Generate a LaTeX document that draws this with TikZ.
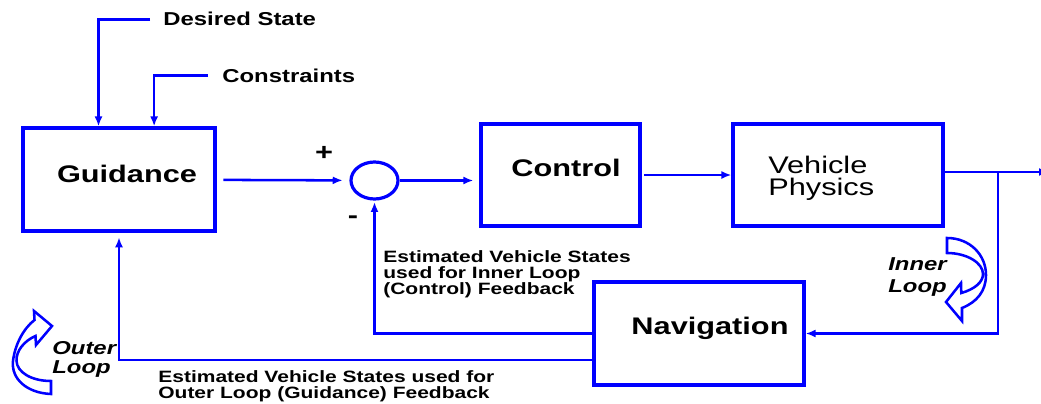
\documentclass[tikz,border=0pt]{standalone}
\usepackage{fontspec}
\setmainfont{Liberation Sans}
\usepackage{tikz}
\usetikzlibrary{calc}
\usetikzlibrary{shapes.geometric, arrows.meta}

\tikzset{
  blockbox/.style={draw=blue, line width=2.4pt, inner sep=0pt},
  flow/.style={draw=blue, line width=1.9pt, -{Latex[length=7.5pt,width=6pt]}},
  looparrow/.style={draw=blue, line width=1.9pt, fill=white, line join=miter},
  wide/.style={inner sep=0pt, xscale=1.28, align=left},
  titlefont/.style={font=\bfseries\fontsize{18}{20}\selectfont},
  plainfont/.style={font=\fontsize{18}{16.5}\selectfont},
  smallbold/.style={font=\bfseries\fontsize{14}{16}\selectfont},
  notefont/.style={font=\bfseries\fontsize{12.3}{12}\selectfont},
  loopfont/.style={font=\bfseries\itshape\fontsize{14}{#1}\selectfont},
}

\begin{document}
\begin{tikzpicture}[x=0.75pt,y=0.75pt,yscale=-1,xscale=1]
            \path[fill=white] (0,0) rectangle (1041,403);
            \useasboundingbox (0,0) rectangle (1041,403);

            %Shape: Rectangle [guidance]
            \node [blockbox, minimum width=144pt, minimum height=77.25pt] (guid) at (119,179.5) {};
            %Shape: Rectangle [control]
            \node [blockbox, minimum width=119.25pt, minimum height=76.5pt] (ctrl) at (560.5,175) {};
            %Shape: Rectangle [vehicle physics]
            \node [blockbox, minimum width=157.5pt, minimum height=76.5pt] (veh) at (838,175) {};
            %Shape: Rectangle [navigation]
            \node [blockbox, minimum width=157.5pt, minimum height=77.25pt] (nav) at (699,333.5) {};
            %Shape: Ellipse [summing junction]
            \node [blockbox, ellipse, minimum width=35.25pt, minimum height=27.75pt] (sum) at (374.5,180.5) {};

            % Text Node
            \draw (127,182) node [anchor=base][wide, titlefont] (guidtxt) {Guidance};
            % Text Node
            \draw (566,176) node [anchor=base][wide, titlefont] (ctrltxt) {Control};
            % Text Node
            \draw (710,334) node [anchor=base][wide, titlefont] (navtxt) {Navigation};
            % Text Node
            \draw (768,156) node [anchor=north west][wide, plainfont] (vehtxt) {Vehicle\\Physics};
            % Text Node
            \draw (163,26) node [anchor=base west][wide, smallbold] (desired) {Desired State};
            % Text Node
            \draw (222,82) node [anchor=base west][wide, smallbold] (constr) {Constraints};
            % Text Node
            \draw (324,153) node [wide, titlefont] (plus) {+};
            % Text Node
            \draw (353,220) node [wide, titlefont] (minus) {-};
            % Text Node
            \draw (383,250) node [anchor=north west][wide, notefont] (innerfb) {Estimated Vehicle States\\used for Inner Loop\\(Control) Feedback};
            % Text Node
            \draw (158,370) node [anchor=north west][wide, notefont] (outerfb) {Estimated Vehicle States used for\\Outer Loop (Guidance) Feedback};
            % Text Node
            \draw (888,257) node [anchor=north west][wide, loopfont=17] (innerlbl) {Inner\\Loop};
            % Text Node
            \draw (52,341) node [anchor=north west][wide, loopfont=14.25] (outerlbl) {Outer\\Loop};

            % entry points on the guidance box
            \coordinate (gin1) at ($(guid.north west)!0.395!(guid.north east)$);
            \coordinate (gin2) at ($(guid.north west)!0.68!(guid.north east)$);
            \coordinate (tap) at (998,172);
            \coordinate (out) at (1049,172);

            %Straight Lines [inputs]
            \draw [flow, shorten <=9.75pt] (desired.west) -| (gin1);
            \draw [flow, shorten <=10.5pt] (constr.west) -| (gin2);
            %Straight Lines [forward path]
            \draw [flow, shorten <=5pt, shorten >=5pt] (guid) -- (sum);
            \draw [flow, shorten >=4.5pt] (sum.east) -- (sum.east -| ctrl.west);
            \draw [flow, shorten <=2pt] (ctrl.east) -- (veh.west);
            \draw [flow] (veh.east |- out) -- (out);
            %Straight Lines [feedback]
            \draw [flow] (tap) |- (nav.east);
            \draw [flow, shorten >=1pt] (nav.west) -| (sum.south);
            \draw [flow, shorten >=3.5pt] ($(nav.west)!0.5!(nav.south west)$) -| (guid.south);

            %Curve Lines [inner loop arrow]
            \draw [looparrow] (947,238) .. controls (970,238) and (986,255) .. (986,275) .. controls (986,291) and (977,302) .. (962,308) -- (962,321) -- (946,302) -- (961,283) -- (961.3,293) .. controls (975,289) and (983,282) .. (983,274) .. controls (983,263) and (967,253) .. (947,253) -- cycle ;
            %Curve Lines [outer loop arrow]
            \draw [looparrow] (51,394) .. controls (27,393) and (11,379) .. (13,361) .. controls (15,344) and (24,328) .. (34.5,320) -- (34,311) -- (52,326) -- (36,345) -- (35.5,336) .. controls (24,341) and (16,351) .. (16.5,361) .. controls (17,372) and (31,381) .. (51,381) -- cycle ;

        \end{tikzpicture}
\end{document}
